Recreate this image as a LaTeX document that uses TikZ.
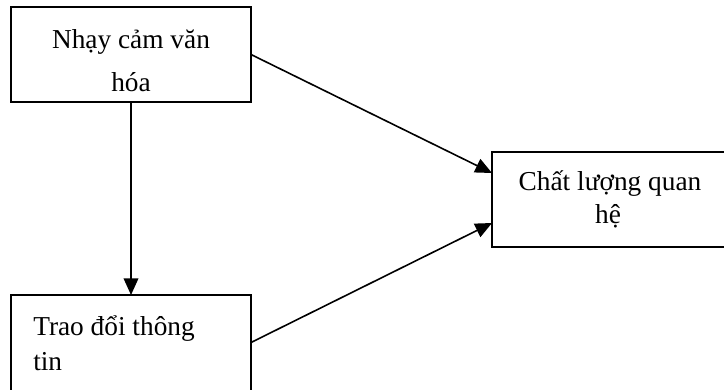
\documentclass[tikz,border=0pt]{standalone}
\usepackage{fontspec}
\setmainfont{Liberation Serif}
\usetikzlibrary{arrows.meta,calc}
\begin{document}
\begin{tikzpicture}[x=0.75pt,y=-0.75pt,
  box/.style={draw=black,line width=1.6pt,minimum width=180pt,minimum height=71.25pt,inner sep=0pt,outer sep=0pt},
  txt/.style={anchor=base,inner sep=0pt,font=\fontsize{20.5}{24}\selectfont},
  conn/.style={line width=1.2pt,-{Triangle[length=12.5pt,width=11pt]}}]
\useasboundingbox (0,0) rectangle (724,389);
\clip (0,0) rectangle (724,389);
\node[box] (b1) at (131,54.5) {};
\node[box,minimum height=78pt] (b2) at (131,347) {};
\node[box,minimum width=195pt] (b3) at (622,199.5) {};
\node[txt] (t1a) at (131,48) {Nhạy cảm văn};
\node[txt] (t1b) at (131,91) {hóa};
\node[txt,anchor=base west] (t2a) at (33,335) {Trao đổi thông};
\node[txt,anchor=base west] (t2b) at (33,370) {tin};
\node[txt] (t3a) at (610,190) {Chất lượng quan};
\node[txt] (t3b) at (608,223) {hệ};
\coordinate (s2) at (251,342.5);
\coordinate (e1) at (492,173);
\coordinate (e2) at (492,223);
\draw[conn] (b1.south) -- (b2.north);
\draw[conn] (b1.east) -- (e1);
\draw[conn] (s2) -- (e2);
\end{tikzpicture}
\end{document}
